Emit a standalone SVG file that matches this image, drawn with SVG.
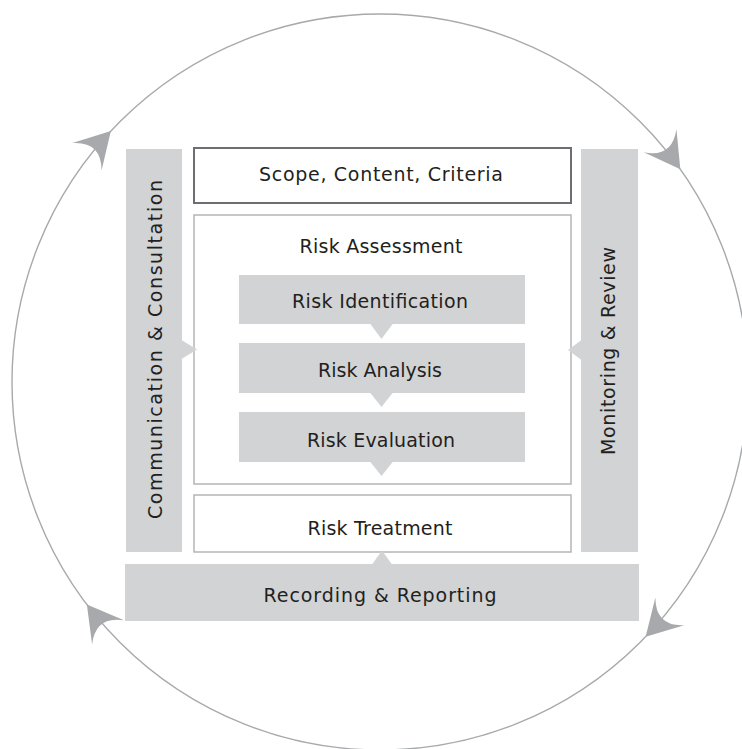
<svg xmlns="http://www.w3.org/2000/svg" width="742" height="749" viewBox="0 0 742 749">
<defs>
<style>
text{font-family:"DejaVu Sans","Liberation Sans",sans-serif;fill:#231f20;font-size:19px;}
.mid{text-anchor:middle;}
.gray{fill:#d1d3d4;stroke:none;}
.ring{fill:none;stroke:#a7a9ac;stroke-width:1.4;}
.arr{fill:#a7a9ac;stroke:none;}
.tri{fill:#d1d3d4;stroke:none;}
</style>
<path id="dart" d="M0,0 L-35,-20 Q-14,0 -35,20 Z"/>
</defs>
<rect width="742" height="749" fill="#ffffff"/>
<g id="connectors">
<circle class="ring" cx="380" cy="382" r="368"/>
<g class="arr">
<use href="#dart" transform="translate(380,382) rotate(-137) translate(368,0) rotate(90)"/>
<use href="#dart" transform="translate(380,382) rotate(-35.3) translate(368,0) rotate(90)"/>
<use href="#dart" transform="translate(380,382) rotate(43.8) translate(368,0) rotate(90)"/>
<use href="#dart" transform="translate(380,382) rotate(142.8) translate(368,0) rotate(90)"/>
</g>
</g>
<g id="communication">
<rect class="gray" x="126" y="149" width="56" height="403"/>
<text class="mid" transform="translate(162,349.5) rotate(-90)" textLength="339" lengthAdjust="spacing">Communication &amp; Consultation</text>
</g>
<g id="monitoring">
<rect class="gray" x="581" y="149" width="57" height="403"/>
<text class="mid" transform="translate(615,351) rotate(-90)" textLength="208" lengthAdjust="spacing">Monitoring &amp; Review</text>
</g>
<g id="scope">
<rect x="194" y="148" width="377" height="55" fill="#ffffff" stroke="#6d6e71" stroke-width="2"/>
<text class="mid" x="381" y="181" textLength="244" lengthAdjust="spacing">Scope, Content, Criteria</text>
</g>
<g id="risk-assessment">
<rect x="194" y="215" width="377" height="269" fill="#ffffff" stroke="#b3b5b8" stroke-width="1.5"/>
<text class="mid" x="381" y="253" textLength="163" lengthAdjust="spacing">Risk Assessment</text>
</g>
<g id="risk-identification">
<rect class="gray" x="239" y="275" width="286" height="49"/>
<text class="mid" x="380" y="308" textLength="176" lengthAdjust="spacing">Risk Identification</text>
</g>
<g id="risk-analysis">
<rect class="gray" x="239" y="343" width="286" height="50"/>
<text class="mid" x="380" y="377" textLength="124" lengthAdjust="spacing">Risk Analysis</text>
</g>
<g id="risk-evaluation">
<rect class="gray" x="239" y="412" width="286" height="50"/>
<text class="mid" x="381" y="447" textLength="148" lengthAdjust="spacing">Risk Evaluation</text>
</g>
<g id="risk-treatment">
<rect x="194" y="495" width="377" height="57" fill="#ffffff" stroke="#b3b5b8" stroke-width="1.5"/>
<text class="mid" x="380" y="534.5" textLength="145" lengthAdjust="spacing">Risk Treatment</text>
</g>
<g id="recording">
<rect class="gray" x="125" y="564" width="514" height="57"/>
<text class="mid" x="380" y="602" textLength="233" lengthAdjust="spacing">Recording &amp; Reporting</text>
</g>
<g id="flow-connectors">
<polygon class="tri" points="370,323.5 393,323.5 381.5,339"/>
<polygon class="tri" points="370,392.5 393,392.5 381.5,407"/>
<polygon class="tri" points="370,461.5 393,461.5 381.5,476"/>
<polygon class="tri" points="372,564.5 392,564.5 382,550.5"/>
<polygon class="tri" points="181.5,340 181.5,359 197,349.5"/>
<polygon class="tri" points="581.5,340 581.5,360 568,350"/>
</g>
</svg>
